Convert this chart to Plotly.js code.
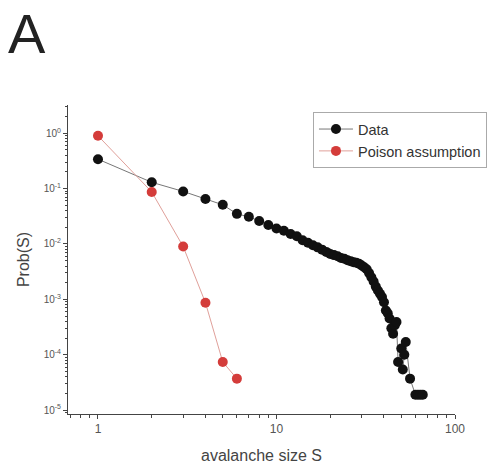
<!DOCTYPE html>
<html>
<head>
<meta charset="utf-8">
<script src="https://cdn.plot.ly/plotly-3.0.1.min.js"></script>
<style>html,body{margin:0;padding:0;background:#fff;}#chart{width:489px;height:468px;}</style>
</head>
<body>
<div id="chart"></div>
<script>
// Data series
const dataS = [1,2,3,4,5,6,7,8,9,10,11,12,13,14,15,16,17,18,19,20,21,22,23,24,25,26,27,28,29,30,31,32,33,34,35,36,37,38,39,40,41,42,43,44,45,46,47,48,50,51,52,53,56,60,62,64,66];
const dataP = [0.34,0.13,0.089,0.065,0.051,0.035,0.031,0.026,0.022,0.019,0.0174,0.0151,0.0138,0.0117,0.0105,0.0095,0.0087,0.0079,0.0072,0.0066,0.0063,0.0060,0.0056,0.0054,0.0051,0.0049,0.0047,0.0046,0.0044,0.0041,0.0038,0.0035,0.0030,0.0025,0.0021,0.0017,0.00145,0.00126,0.0011,0.00089,0.00063,0.00056,0.00045,0.00030,0.00024,0.00034,0.00039,0.000074,0.00013,0.000054,0.0001,0.00017,0.000037,0.000019,0.000019,0.000019,0.000019];
const poisS = [1,2,3,4,5,6];
const poisP = [0.9,0.087,0.009,0.00087,0.000074,0.000037];

// Tick labels
const xTickVals = [1,10,100];
const xTickText = ['1','10','100'];
const yTickVals = [1,0.1,0.01,0.001,0.0001,0.00001];
const yTickText = ['10<sup>0</sup>','10<sup>-1</sup>','10<sup>-2</sup>','10<sup>-3</sup>','10<sup>-4</sup>','10<sup>-5</sup>'];

const xMinor = [];
[0.1,1,10].forEach(d=>{for(let k=2;k<=9;k++) xMinor.push(k*d);});
const yMinor = [];
[0.000001,0.00001,0.0001,0.001,0.01,0.1,1].forEach(d=>{for(let k=2;k<=9;k++) yMinor.push(k*d);});

const traces = [
  {x:dataS, y:dataP, name:'Data', type:'scatter', mode:'lines+markers',
   line:{color:'#777', width:1}, marker:{color:'#111', size:10}},
  {x:poisS, y:poisP, name:'Poison assumption', type:'scatter', mode:'lines+markers',
   line:{color:'#e0a09a', width:1}, marker:{color:'#d43c3a', size:10}}
];

const axisCommon = {
  showline:true, linecolor:'#444', linewidth:1, mirror:false,
  showgrid:false, zeroline:false, ticks:'outside', ticklen:4, tickcolor:'#444',
  tickfont:{family:'Liberation Sans, Arial, sans-serif', size:10, color:'#555'}
};

const layout = {
  width:489, height:468,
  margin:{l:68, r:34, t:105, b:54, autoexpand:false},
  paper_bgcolor:'#fff', plot_bgcolor:'#fff',
  showlegend:true,
  legend:{x:0.633, y:0.977, xanchor:'left', yanchor:'top',
    bordercolor:'#aaa', borderwidth:1, bgcolor:'#fff',
    itemwidth:34,
    font:{family:'Liberation Sans, Arial, sans-serif', size:14.5, color:'#333'},
    tracegroupgap:0},
  xaxis:Object.assign({}, axisCommon, {
    type:'log', range:[-0.168, 2], automargin:false,
    tickmode:'array', tickvals:xTickVals, ticktext:xTickText,
    tickfont:{family:'Liberation Sans, Arial, sans-serif', size:12, color:'#555'},
    minor:{tickmode:'array', tickvals:xMinor, ticks:'outside', ticklen:3, tickcolor:'#444', showgrid:false},
    title:{text:'avalanche size S', standoff:14, font:{family:'Liberation Sans, Arial, sans-serif', size:16, color:'#444'}}
  }),
  yaxis:Object.assign({}, axisCommon, {
    type:'log', range:[-5.07, 0.51], automargin:false,
    tickmode:'array', tickvals:yTickVals, ticktext:yTickText,
    minor:{tickmode:'array', tickvals:yMinor, ticks:'outside', ticklen:2, tickcolor:'#444', showgrid:false},
    title:{text:'Prob(S)', standoff:10, font:{family:'Liberation Sans, Arial, sans-serif', size:16, color:'#444'}}
  }),
  annotations:[{
    text:'A', xref:'paper', yref:'paper', x:-0.16, y:1.233, xanchor:'left', yanchor:'middle',
    showarrow:false, font:{family:'Liberation Sans, Arial, sans-serif', size:56, color:'#222'}
  }]
};

Plotly.newPlot('chart', traces, layout, {displayModeBar:false, staticPlot:true});
</script>
</body>
</html>
